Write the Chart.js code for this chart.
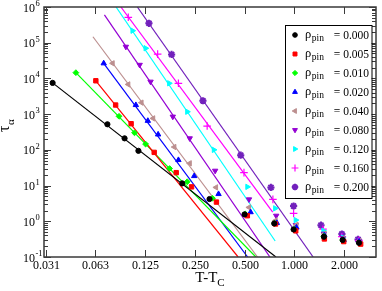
<!DOCTYPE html>
<html>
<head>
<meta charset="utf-8">
<script src="https://cdn.jsdelivr.net/npm/chart.js@4.4.0/dist/chart.umd.min.js"></script>
<style>
  html, body { margin: 0; padding: 0; background: #fff; }
  #wrap { width: 382px; height: 291px; }
</style>
</head>
<body>
<div id="wrap"><canvas id="tauChart" width="382" height="291"></canvas></div>
<script>
// axis ticks
const xTickValues = [0.03125, 0.0625, 0.125, 0.25, 0.5, 1, 2];
const xTickLabels = ["0.031", "0.063", "0.125", "0.250", "0.500", "1.000", "2.000"];
const yTickExponents = [-1, 0, 1, 2, 3, 4, 5, 6];

// legend categories
const rhoPin = ["0.000", "0.005", "0.010", "0.020", "0.040", "0.080", "0.120", "0.160", "0.200"];

// measured tau_alpha vs T-Tc, one pair of arrays per rho_pin
const t000 = [0.0345, 0.074, 0.094, 0.114, 0.21, 0.307, 0.50, 0.756, 0.99, 1.51, 1.96, 2.46];
const tau000 = [7500, 520, 210, 94, 11.5, 4.2, 1.56, 0.87, 0.59, 0.37, 0.30, 0.25];
const t005 = [0.063, 0.083, 0.103, 0.142, 0.193, 0.239, 0.338, 0.52, 0.77, 1.02, 1.52, 1.99, 2.52];
const tau005 = [8600, 1800, 540, 85, 23, 9.2, 3.45, 1.43, 0.84, 0.54, 0.32, 0.27, 0.23];
const t010 = [0.0477, 0.087, 0.108, 0.126, 0.176, 0.225, 0.32, 0.505, 0.76, 1.0, 1.51, 1.97, 2.48];
const tau010 = [14500, 870, 300, 145, 30, 12.8, 4.4, 1.6, 0.88, 0.6, 0.38, 0.29, 0.24];
const t020 = [0.0703, 0.11, 0.13, 0.15, 0.199, 0.248, 0.348, 0.544, 0.784, 1.03, 1.52, 1.99, 2.47];
const tau020 = [26500, 1800, 650, 270, 52, 18.5, 5.8, 1.8, 0.9, 0.67, 0.41, 0.30, 0.27];
const t040 = [0.0796, 0.099, 0.119, 0.14, 0.188, 0.233, 0.336, 0.532, 0.77, 1.03, 1.52, 1.98, 2.47];
const tau040 = [26500, 6800, 2100, 760, 120, 42, 8.9, 2.45, 1.05, 0.8, 0.45, 0.33, 0.28];
const t080 = [0.0957, 0.116, 0.135, 0.184, 0.233, 0.332, 0.532, 0.777, 1.02, 1.51, 1.97, 2.47];
const tau080 = [77000, 24000, 8100, 850, 210, 26, 4.1, 1.43, 0.78, 0.45, 0.34, 0.28];
const t120 = [0.105, 0.126, 0.175, 0.225, 0.326, 0.52, 0.766, 1.02, 1.5, 1.97, 2.47];
const tau120 = [217000, 70000, 7300, 1170, 100, 9.2, 2.3, 1.08, 0.54, 0.35, 0.27];
const t160 = [0.099, 0.149, 0.199, 0.297, 0.496, 0.742, 0.99, 1.49, 1.94, 2.46];
const tau160 = [514000, 48000, 7300, 464, 23, 4.1, 1.66, 0.6, 0.37, 0.29];
const t200 = [0.132, 0.181, 0.28, 0.474, 0.722, 0.99, 1.45, 1.94, 2.43];
const tau200 = [350000, 47000, 2370, 71, 8.9, 2.67, 0.78, 0.44, 0.31];

// power-law fit lines (end points)
const fitT000 = [0.0345, 0.774], fitTau000 = [7500, 0.1];
const fitT005 = [0.063, 0.457], fitTau005 = [8600, 0.1];
const fitT010 = [0.0477, 0.585], fitTau010 = [14500, 0.1];
const fitT020 = [0.0703, 0.522], fitTau020 = [26500, 0.1];
const fitT040 = [0.0605, 0.599], fitTau040 = [147000, 0.1];
const fitT080 = [0.071, 0.712], fitTau080 = [600000, 0.1];
const fitT120 = [0.0835, 0.766], fitTau120 = [1000000, 0.28];
const fitT160 = [0.0893, 0.74], fitTau160 = [1000000, 1.8];
const fitT200 = [0.1123, 1.30], fitTau200 = [1000000, 0.1];

const seriesT = [t000, t005, t010, t020, t040, t080, t120, t160, t200];
const seriesTau = [tau000, tau005, tau010, tau020, tau040, tau080, tau120, tau160, tau200];
const fitT = [fitT000, fitT005, fitT010, fitT020, fitT040, fitT080, fitT120, fitT160, fitT200];
const fitTau = [fitTau000, fitTau005, fitTau010, fitTau020, fitTau040, fitTau080, fitTau120, fitTau160, fitTau200];

// grace-like colours and symbols
const colors = ["#000000", "#ff0000", "#00ff00", "#0000ff", "#bc8f8f", "#9400d3", "#00ffff", "#ff00ff", "#7221bc"];
const markers = [
  { pointStyle: "circle", radius: 2.6, rotation: 0, borderWidth: 1 },
  { pointStyle: "rect", radius: 3.1, rotation: 0, borderWidth: 1 },
  { pointStyle: "rectRot", radius: 2.9, rotation: 0, borderWidth: 1 },
  { pointStyle: "triangle", radius: 3.1, rotation: 0, borderWidth: 1 },
  { pointStyle: "triangle", radius: 3.1, rotation: -90, borderWidth: 1 },
  { pointStyle: "triangle", radius: 3.1, rotation: 180, borderWidth: 1 },
  { pointStyle: "triangle", radius: 3.1, rotation: 90, borderWidth: 1 },
  { pointStyle: "cross", radius: 3.8, rotation: 0, borderWidth: 1.2 },
  { pointStyle: "star", radius: 3.6, rotation: 0, borderWidth: 2 },
];

const SERIF = '"Liberation Serif", "Times New Roman", serif';

const datasets = [];
seriesT.forEach((xs, i) => {
  datasets.push({
    label: "fit " + rhoPin[i],
    data: fitT[i].map((v, k) => ({ x: v, y: fitTau[i][k] })),
    showLine: true,
    pointRadius: 0,
    borderColor: colors[i],
    borderWidth: 1.2,
    order: 2,
  });
  datasets.push({
    label: rhoPin[i],
    data: xs.map((v, k) => ({ x: v, y: seriesTau[i][k] })),
    showLine: false,
    pointStyle: markers[i].pointStyle,
    pointRadius: markers[i].radius,
    pointRotation: markers[i].rotation,
    pointBorderWidth: markers[i].borderWidth,
    backgroundColor: colors[i],
    borderColor: colors[i],
    order: 1,
  });
});

function line(ctx, x1, y1, x2, y2) {
  ctx.beginPath();
  ctx.moveTo(x1, y1);
  ctx.lineTo(x2, y2);
  ctx.stroke();
}

const frameAndText = {
  id: "frameAndText",
  afterDraw(chart) {
    const { ctx, chartArea: a } = chart;
    const xs = chart.scales.x, ys = chart.scales.y;
    ctx.save();

    // frame
    ctx.strokeStyle = "#3a3a3a";
    ctx.lineWidth = 1.5;
    ctx.strokeRect(a.left, a.top, a.right - a.left, a.bottom - a.top);

    // x ticks + labels
    ctx.lineWidth = 1;
    ctx.fillStyle = "#000";
    ctx.font = "12px " + SERIF;
    ctx.textAlign = "center";
    ctx.textBaseline = "alphabetic";
    xTickValues.forEach((v, i) => {
      const px = Math.round(xs.getPixelForValue(v)) + 0.5;
      line(ctx, px, a.bottom, px, a.bottom - 7);
      line(ctx, px, a.top, px, a.top + 7);
      ctx.fillText(xTickLabels[i], px, a.bottom + 12);
    });

    // y ticks (major + minor) on both sides
    for (let e = yTickExponents[0]; e <= yTickExponents[yTickExponents.length - 1]; e++) {
      for (let m = 1; m < 10; m++) {
        if (e === yTickExponents[yTickExponents.length - 1] && m > 1) break;
        const py = Math.round(ys.getPixelForValue(m * Math.pow(10, e))) + 0.5;
        const len = m === 1 ? 7 : 4;
        line(ctx, a.left, py, a.left + len, py);
        line(ctx, a.right, py, a.right - len, py);
      }
    }

    // y labels 10^n
    yTickExponents.forEach((e) => {
      const py = ys.getPixelForValue(Math.pow(10, e));
      ctx.textAlign = "right";
      ctx.font = "12px " + SERIF;
      ctx.fillText("10", 35, py + 4.5);
      ctx.textAlign = "left";
      ctx.font = "8.5px " + SERIF;
      ctx.fillText(String(e), 35.5, py - 1);
    });

    // axis titles
    ctx.fillStyle = "#000";
    ctx.textAlign = "left";
    ctx.font = "15px " + SERIF;
    const mainW = ctx.measureText("T-T").width;
    ctx.font = "11px " + SERIF;
    const subW = ctx.measureText("C").width;
    const tx = (a.left + a.right) / 2 - (mainW + subW) / 2;
    ctx.font = "15px " + SERIF;
    ctx.fillText("T-T", tx, 282);
    ctx.font = "11px " + SERIF;
    ctx.fillText("C", tx + mainW, 286);

    ctx.save();
    ctx.translate(9, 132);
    ctx.rotate(-Math.PI / 2);
    ctx.font = "16px " + SERIF;
    ctx.fillText("\u03c4", 0, 0);
    const tw = ctx.measureText("\u03c4").width;
    ctx.font = "11px " + SERIF;
    ctx.fillText("\u03b1", tw + 0.5, 5);
    ctx.restore();

    // legend
    const lx = 285, ly = 25, lw = 86.5, lh = 173;
    ctx.fillStyle = "#fff";
    ctx.fillRect(lx, ly, lw, lh);
    ctx.strokeStyle = "#000";
    ctx.lineWidth = 1;
    ctx.strokeRect(lx + 0.5, ly + 0.5, lw, lh);
    rhoPin.forEach((r, i) => {
      const rowY = 35 + 19 * i;
      ctx.fillStyle = colors[i];
      ctx.strokeStyle = colors[i];
      const mk = markers[i];
      if (Chart.helpers && Chart.helpers.drawPoint) {
        ctx.lineWidth = mk.borderWidth;
        Chart.helpers.drawPoint(ctx, {
          pointStyle: mk.pointStyle,
          rotation: mk.rotation,
          radius: mk.radius * 0.9,
          borderWidth: mk.borderWidth,
        }, 295, rowY);
      }
      ctx.fillStyle = "#000";
      ctx.textAlign = "left";
      ctx.font = "12.5px " + SERIF;
      ctx.fillText("\u03c1", 305, rowY + 3);
      const rw = ctx.measureText("\u03c1").width;
      ctx.font = "9.5px " + SERIF;
      ctx.fillText("pin", 305 + rw + 0.5, rowY + 6);
      ctx.textAlign = "right";
      ctx.font = "11.5px " + SERIF;
      ctx.fillText("= " + r, 369, rowY + 3.5);
    });

    ctx.restore();
  },
};

new Chart(document.getElementById("tauChart"), {
  type: "scatter",
  data: { datasets },
  options: {
    responsive: false,
    animation: false,
    devicePixelRatio: 1,
    events: [],
    layout: { padding: { left: 44, right: 3, top: 7, bottom: 34 } },
    scales: {
      x: { type: "logarithmic", min: 0.0306, max: 3.12, display: false },
      y: { type: "logarithmic", min: 0.1, max: 1000000, display: false },
    },
    plugins: { legend: { display: false }, tooltip: { enabled: false } },
  },
  plugins: [frameAndText],
});
</script>
</body>
</html>
